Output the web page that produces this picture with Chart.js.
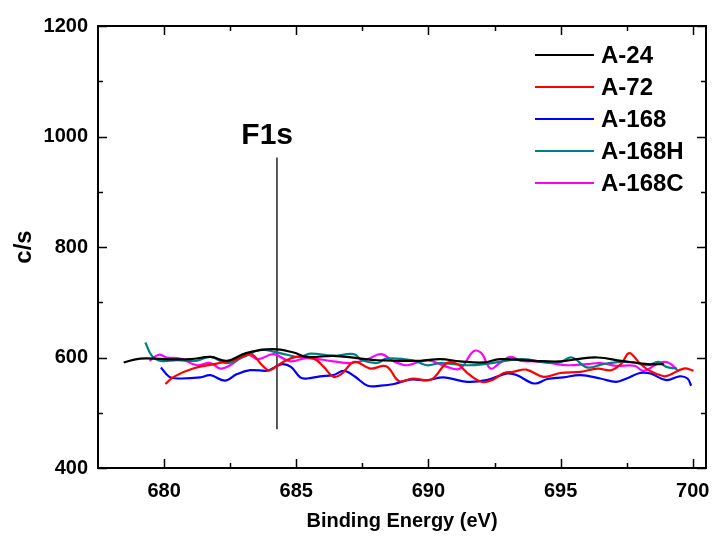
<!DOCTYPE html>
<html>
<head>
<meta charset="utf-8">
<script src="https://cdn.jsdelivr.net/npm/chart.js@4.4.1/dist/chart.umd.min.js"></script>
<style>
  html, body { margin: 0; padding: 0; background: #fff; }
  #wrap { width: 713px; height: 540px; }
</style>
</head>
<body>
<div id="wrap"><canvas id="xps" width="713" height="540"></canvas></div>
<script>
const seriesNames = ['A-24', 'A-72', 'A-168', 'A-168H', 'A-168C'];
const seriesColors = ['#000000', '#ff0000', '#0000ff', '#008080', '#ff00ff'];

const a24X = [678.47, 679.1, 680.0, 681.0, 681.76, 682.38, 683.1, 684.1, 684.9, 685.4, 686.4, 687.3, 688.06, 688.9, 689.7, 690.45, 691.2, 692.1, 692.7, 694.0, 695.0, 695.6, 696.4, 697.3, 698.3, 698.9];
const a24Y = [591, 598, 597, 597, 601, 594, 608, 615, 609, 601, 603, 599, 595, 594, 594, 597, 593, 591, 597, 594, 593, 597, 600, 594, 588, 588];

const a72X = [680.05, 680.36, 681.1, 682.0, 682.6, 683.1, 683.3, 683.77, 684.0, 684.5, 685.0, 685.66, 686.04, 686.4, 686.7, 687.2, 687.8, 688.4, 688.9, 689.4, 690.1, 690.7, 691.1, 691.5, 692.0, 692.4, 692.85, 693.2, 693.7, 694.36, 694.99, 695.75, 696.4, 696.9, 697.3, 697.6, 698.0, 698.4, 698.9, 699.1, 699.66, 700.03];
const a72Y = [552, 565, 580, 589, 595, 604, 607, 583, 577, 592, 601, 598, 583, 565, 570, 592, 580, 584, 557, 562, 560, 590, 588, 571, 556, 559, 572, 574, 578, 565, 572, 574, 580, 577, 589, 608, 589, 575, 566, 568, 580, 576];

const a168X = [679.88, 680.2, 680.6, 681.37, 681.75, 682.3, 682.76, 683.26, 683.9, 684.1, 684.46, 684.8, 685.15, 685.4, 685.9, 686.4, 686.8, 687.2, 687.7, 688.2, 688.7, 689.3, 689.95, 690.58, 691.46, 692.2, 692.98, 693.35, 694.0, 694.5, 695.1, 695.75, 696.5, 697.1, 697.5, 698.0, 698.4, 699.0, 699.5, 699.8, 699.94];
const a168Y = [582, 565, 562, 564, 568, 558, 570, 577, 576, 580, 588, 583, 564, 562, 566, 568, 576, 566, 549, 549, 552, 560, 559, 564, 556, 559, 571, 568, 553, 561, 564, 568, 562, 556, 562, 572, 571, 559, 566, 562, 549];

const a168hX = [679.29, 679.54, 679.86, 680.5, 681.2, 681.75, 682.38, 683.0, 683.64, 684.1, 684.65, 685.15, 685.53, 686.4, 687.17, 687.5, 688.06, 688.4, 689.4, 689.95, 690.45, 691.46, 692.1, 693.1, 693.6, 694.5, 695.0, 695.43, 696.0, 696.6, 697.3, 697.8, 698.3, 698.7, 699.0, 699.4];
const a168hY = [627, 603, 594, 595, 594, 601, 590, 601, 614, 611, 605, 601, 607, 603, 606, 595, 590, 598, 595, 586, 590, 586, 588, 595, 597, 591, 592, 600, 582, 588, 592, 591, 586, 592, 583, 580];

const a168cX = [679.45, 679.8, 680.1, 680.6, 681.25, 681.75, 682.13, 682.5, 683.14, 683.56, 684.14, 684.77, 685.4, 686.4, 687.05, 687.7, 688.2, 688.7, 689.2, 689.7, 690.1, 690.7, 691.2, 691.7, 692.0, 692.35, 692.7, 693.1, 693.5, 694.0, 694.6, 695.25, 696.0, 696.5, 697.1, 697.8, 698.14, 698.77, 699.1, 699.47];
const a168cY = [594, 605, 600, 598, 586, 590, 580, 586, 605, 597, 606, 593, 599, 593, 590, 597, 606, 593, 586, 593, 594, 583, 580, 611, 608, 580, 590, 601, 594, 593, 590, 586, 588, 590, 585, 585, 576, 591, 590, 575];

// F1s marker line and its label
const f1sX = [684.27, 684.27];
const f1sY = [470, 962];
const f1sLabel = { text: 'F1s', x: 683.9, y: 1002 };

// axis ticks
const xMajor = [680, 685, 690, 695, 700];
const xMinor = [682.5, 687.5, 692.5, 697.5];
const yMajor = [400, 600, 800, 1000, 1200];
const yMinor = [500, 700, 900, 1100];

const FONT = 'Arial, "Liberation Sans", sans-serif';

const xsList = [a24X, a72X, a168X, a168hX, a168cX];
const ysList = [a24Y, a72Y, a168Y, a168hY, a168cY];

const toPts = (xs, ys) => xs.map((v, i) => ({ x: v, y: ys[i] }));

const datasets = seriesNames.map((name, i) => ({
    label: name,
    data: toPts(xsList[i], ysList[i]),
    borderColor: seriesColors[i],
    borderWidth: 2.2,
    pointRadius: 0,
    tension: 0.4,
    fill: false
}));
datasets.push({
    label: 'F1s',
    data: toPts(f1sX, f1sY),
    borderColor: '#000',
    borderWidth: 1.3,
    pointRadius: 0,
    tension: 0
});

// frame, inward ticks, legend and peak label
const decor = {
    id: 'decor',
    afterDatasetsDraw(chart) {
        const { ctx, chartArea: a, scales: { x, y } } = chart;
        ctx.save();
        ctx.strokeStyle = '#000';
        ctx.lineWidth = 2;
        ctx.strokeRect(a.left, a.top, a.right - a.left, a.bottom - a.top);

        ctx.lineWidth = 1.5;
        const tickX = (vals, len) => vals.forEach(v => {
            const px = Math.round(x.getPixelForValue(v)) + 0.5;
            ctx.beginPath();
            ctx.moveTo(px, a.bottom); ctx.lineTo(px, a.bottom - len);
            ctx.moveTo(px, a.top); ctx.lineTo(px, a.top + len);
            ctx.stroke();
        });
        const tickY = (vals, len) => vals.forEach(v => {
            const py = Math.round(y.getPixelForValue(v)) + 0.5;
            ctx.beginPath();
            ctx.moveTo(a.left, py); ctx.lineTo(a.left + len, py);
            ctx.moveTo(a.right, py); ctx.lineTo(a.right - len, py);
            ctx.stroke();
        });
        tickX(xMajor, 9); tickX(xMinor, 5);
        tickY(yMajor, 9); tickY(yMinor, 5);

        // peak label
        ctx.fillStyle = '#000';
        ctx.font = 'bold 30px ' + FONT;
        ctx.textAlign = 'center';
        ctx.textBaseline = 'middle';
        ctx.fillText(f1sLabel.text, x.getPixelForValue(f1sLabel.x), y.getPixelForValue(f1sLabel.y));

        // legend
        ctx.font = 'bold 24px ' + FONT;
        ctx.textAlign = 'left';
        seriesNames.forEach((name, i) => {
            const ly = a.top + 29 + i * 32;
            ctx.strokeStyle = seriesColors[i];
            ctx.lineWidth = 2;
            ctx.beginPath();
            ctx.moveTo(a.right - 171, ly); ctx.lineTo(a.right - 112, ly);
            ctx.stroke();
            ctx.fillStyle = '#000';
            ctx.fillText(name, a.right - 105, ly + 1);
        });
        ctx.restore();
    }
};

new Chart(document.getElementById('xps'), {
    type: 'line',
    data: { datasets },
    options: {
        responsive: false,
        animation: false,
        layout: { padding: { top: 26, right: 7, left: 0, bottom: 0 } },
        plugins: { legend: { display: false }, tooltip: { enabled: false } },
        scales: {
            x: {
                type: 'linear',
                min: 677.5,
                max: 700.5,
                afterBuildTicks: s => { s.ticks = xMajor.map(v => ({ value: v })); },
                afterFit: s => { s.height = 72; s.paddingLeft = 0; s.paddingRight = 0; },
                grid: { display: false, drawTicks: false },
                border: { display: false },
                ticks: {
                    padding: 11,
                    color: '#000',
                    font: { family: FONT, size: 20, weight: 'bold' },
                    callback: v => String(v)
                },
                title: {
                    display: true,
                    text: 'Binding Energy (eV)',
                    color: '#000',
                    font: { family: FONT, size: 20, weight: 'bold' },
                    padding: { top: 0, bottom: 7 }
                }
            },
            y: {
                min: 400,
                max: 1200,
                afterBuildTicks: s => { s.ticks = yMajor.map(v => ({ value: v })); },
                afterFit: s => { s.width = 98; s.paddingTop = 0; s.paddingBottom = 0; },
                grid: { display: false, drawTicks: false },
                border: { display: false },
                ticks: {
                    padding: 10,
                    color: '#000',
                    font: { family: FONT, size: 20, weight: 'bold' },
                    callback: v => String(v)
                },
                title: {
                    display: true,
                    text: 'c/s',
                    color: '#000',
                    font: { family: FONT, size: 24, weight: 'bold' },
                    padding: { top: 10, bottom: 0 }
                }
            }
        }
    },
    plugins: [decor]
});
</script>
</body>
</html>
